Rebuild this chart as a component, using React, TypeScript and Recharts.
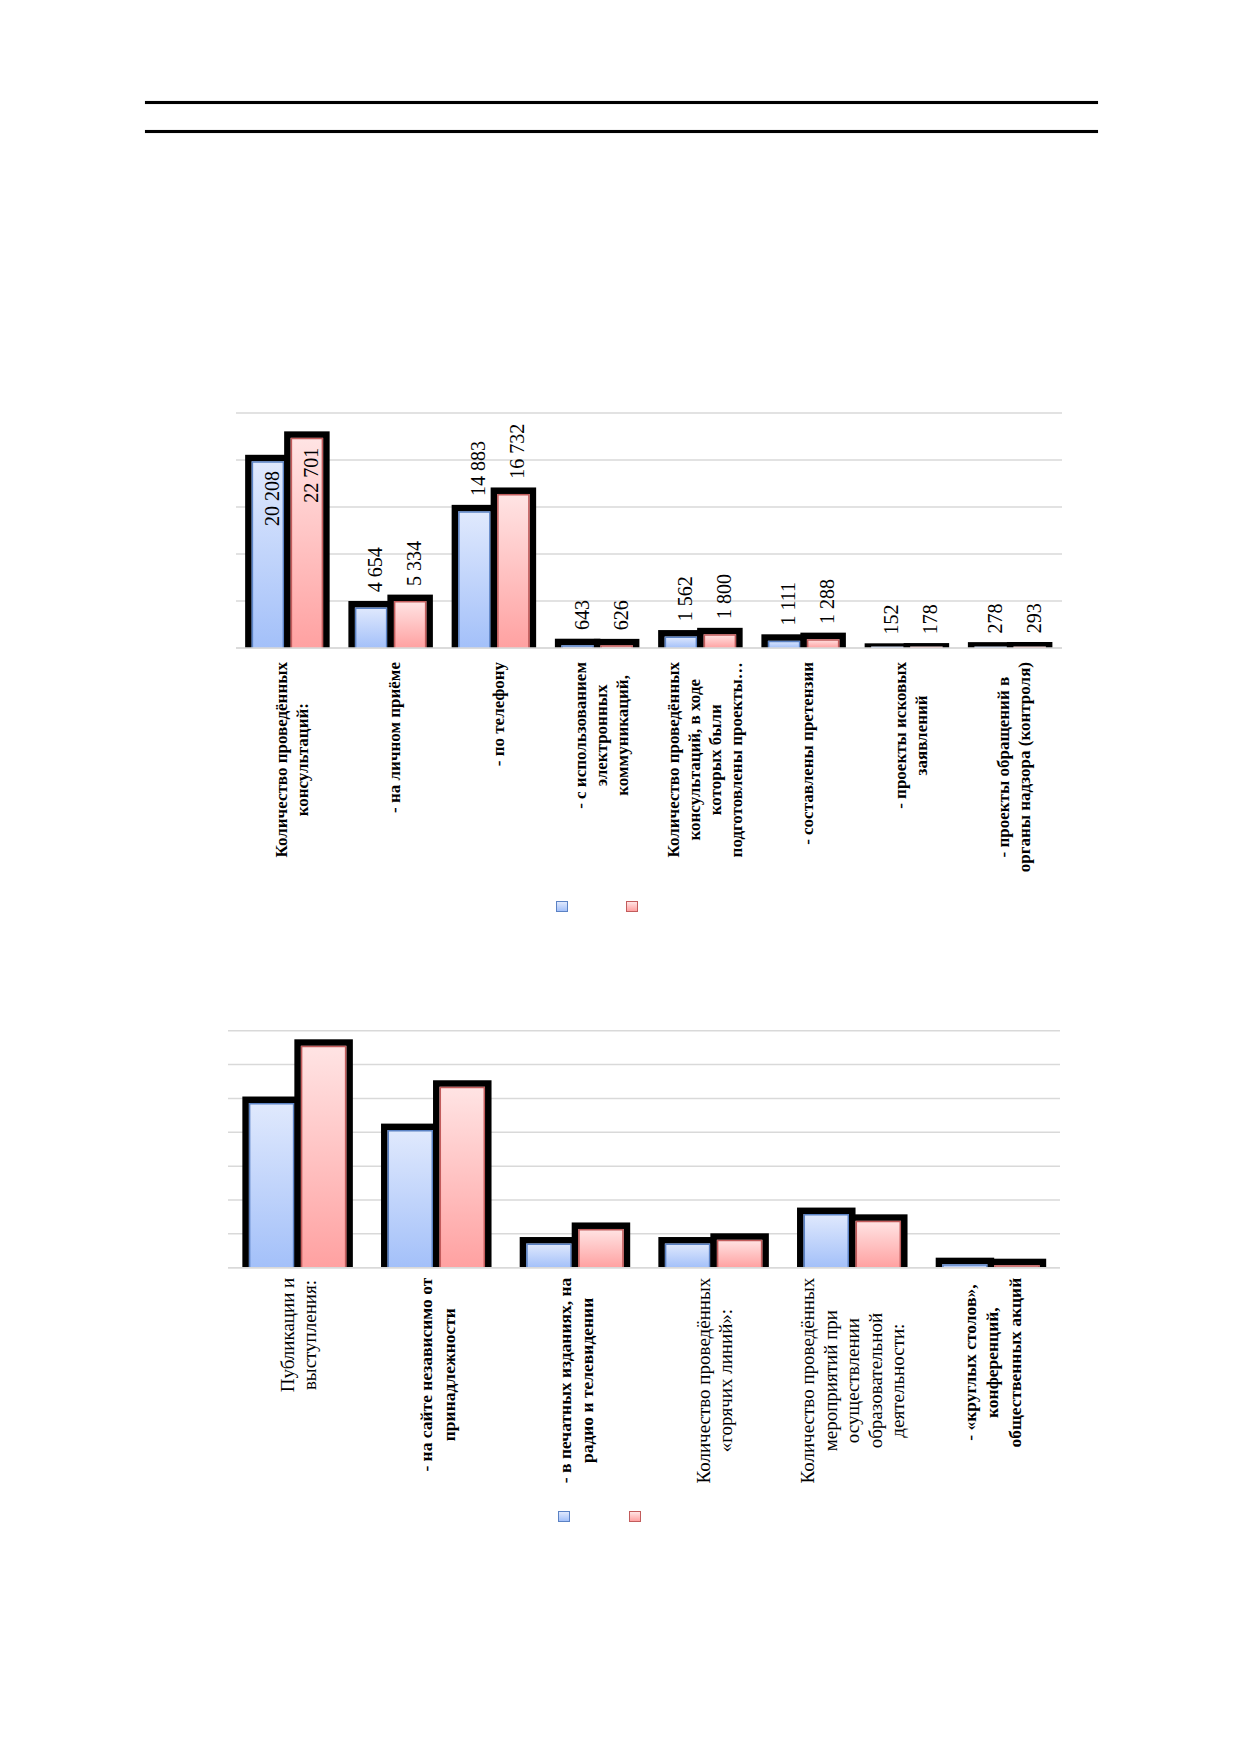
import { BarChart, Bar, XAxis, YAxis, CartesianGrid, LabelList, Legend } from 'recharts';

// ---- chart 1: консультации ----
const consultCategories = [
  'Количество проведённых\nконсультаций:',
  '- на личном приёме',
  '- по телефону',
  '- с использованием\nэлектронных\nкоммуникаций,',
  'Количество проведённых\nконсультаций, в ходе\nкоторых были\nподготовлены проекты…',
  '- составлены претензии',
  '- проекты исковых\nзаявлений',
  '- проекты обращений в\nорганы надзора (контроля)',
];
const consultPrev = [20208, 4654, 14883, 643, 1562, 1111, 152, 278];
const consultCurr = [22701, 5334, 16732, 626, 1800, 1288, 178, 293];
const consultTicks = [0, 5000, 10000, 15000, 20000, 25000];

// ---- chart 2: публикации и мероприятия (значения без подписей, оценены по сетке) ----
const outreachCategories = [
  'Публикации и\nвыступления:',
  '- на сайте независимо от\nпринадлежности',
  '- в печатных изданиях, на\nрадио и телевидении',
  'Количество проведённых\n«горячих линий»:',
  'Количество проведённых\nмероприятий при\nосуществлении\nобразовательной\nдеятельности:',
  '- «круглых столов»,\nконференций,\nобщественных акций',
];
const outreachPrev = [496, 416, 81, 81, 168, 20];
const outreachCurr = [665, 544, 124, 92, 148, 17];
const outreachTicks = [0, 100, 200, 300, 400, 500, 600, 700];
const outreachPlainLabels = [
  'Публикации и\nвыступления:',
  'Количество проведённых\n«горячих линий»:',
  'Количество проведённых\nмероприятий при\nосуществлении\nобразовательной\nдеятельности:',
];

const consultData = consultCategories.map((name, i) => ({ name, prev: consultPrev[i], curr: consultCurr[i] }));
const outreachData = outreachCategories.map((name, i) => ({ name, prev: outreachPrev[i], curr: outreachCurr[i] }));

const SERIF = "'Liberation Serif', 'Times New Roman', serif";
const GRID = '#d9d9d9';
const BLUE = { top: '#e0e9fd', bottom: '#a3c0f9', edge: '#5b82c4' };
const RED = { top: '#ffe4e4', bottom: '#ffa1a1', edge: '#c25c5c' };

const measureCtx = typeof document !== 'undefined' ? document.createElement('canvas').getContext('2d') : null;
function textWidth(s: string, font: string) {
  if (!measureCtx) return s.length * 9;
  measureCtx.font = font;
  return measureCtx.measureText(s).width;
}

const fmt = (v: number) => String(v).replace(/\B(?=(\d{3})+(?!\d))/g, ' ');

// thick black frame (no bottom edge, nothing below the baseline) + thin coloured inner edge
function FramedBar(props: any) {
  const { x, y, width, height, fill, edge } = props;
  if (!height || height <= 0) return null;
  const sw = 6.5;
  const h = sw / 2;
  const bottom = y + height;
  const innerTop = Math.min(y + h, bottom - 1.5);
  const ix = x + h + 0.75;
  const iw = width - sw - 1.5;
  const iy = innerTop + 0.75;
  return (
    <g>
      <rect x={x - h} y={y - h} width={width + sw} height={bottom - (y - h)} fill="#000" />
      <rect x={x + h} y={innerTop} width={width - sw} height={bottom - innerTop} fill={fill} />
      {iy < bottom - 1 && (
        <path d={`M${ix},${bottom} L${ix},${iy} L${ix + iw},${iy} L${ix + iw},${bottom}`} fill="none" stroke={edge} strokeWidth={1.5} />
      )}
    </g>
  );
}

function ValueLabel(props: any) {
  const x = Number(props.x);
  const y = Number(props.y);
  const width = Number(props.width);
  const value = Number(props.value);
  const cx = x + width / 2 + 11;
  const inside = value > 18000;
  const py = inside ? y + 13 : y - 12;
  return (
    <text
      x={cx}
      y={py}
      transform={`rotate(-90 ${cx} ${py})`}
      textAnchor={inside ? 'end' : 'start'}
      fontFamily={SERIF}
      fontSize={20}
      fill="#000"
    >
      {fmt(value)}
    </text>
  );
}

function CategoryTick(props: any) {
  const { x, y, payload, gap, lineGap, shift, size, plainSize, plain } = props;
  const label: string = payload.value;
  const lines = label.split('\n');
  const isPlain = plain && plain.includes(label);
  const fs = isPlain ? plainSize : size;
  const weight = isPlain ? 'normal' : 'bold';
  const font = `${weight} ${fs}px 'Liberation Serif'`;
  const maxW = Math.max(...lines.map((l) => textWidth(l, font)));
  const cy = y + gap + maxW / 2;
  const n = lines.length;
  return (
    <g>
      {lines.map((line, i) => {
        const bx = x + (i - (n - 1) / 2) * lineGap + shift;
        return (
          <text
            key={i}
            x={bx}
            y={cy}
            transform={`rotate(-90 ${bx} ${cy})`}
            textAnchor="middle"
            fontFamily={SERIF}
            fontWeight={weight}
            fontSize={fs}
            fill="#000"
          >
            {line}
          </text>
        );
      })}
    </g>
  );
}

function SwatchLegend() {
  return (
    <div style={{ position: 'relative', width: 90, height: 12 }}>
      {[BLUE, RED].map((s, i) => (
        <div
          key={i}
          style={{
            position: 'absolute',
            left: i * 70.5,
            top: 0,
            width: 12,
            height: 11.5,
            boxSizing: 'border-box',
            border: `1.5px solid ${s.edge}`,
            background: `linear-gradient(${s.top}, ${s.bottom})`,
          }}
        />
      ))}
    </div>
  );
}

function Gradients() {
  return (
    <defs>
      <linearGradient id="gBlue" x1="0" y1="0" x2="0" y2="1">
        <stop offset="0%" stopColor={BLUE.top} />
        <stop offset="100%" stopColor={BLUE.bottom} />
      </linearGradient>
      <linearGradient id="gRed" x1="0" y1="0" x2="0" y2="1">
        <stop offset="0%" stopColor={RED.top} />
        <stop offset="100%" stopColor={RED.bottom} />
      </linearGradient>
    </defs>
  );
}

const rule = (top: number) => (
  <div
    style={{
      position: 'absolute',
      left: 145,
      top,
      width: 953,
      height: 3,
      background: '#000',
      boxShadow: '0 0 1px #777',
    }}
  />
);

export default function App() {
  return (
    <div style={{ position: 'absolute', left: 0, top: 0, width: 1237, height: 1754, background: '#fff' }}>
      {rule(101)}
      {rule(130)}

      <div style={{ position: 'absolute', left: 0, top: 0 }}>
        <BarChart
          width={1237}
          height={960}
          data={consultData}
          margin={{ top: 413, right: 175, bottom: 0, left: 236 }}
          barCategoryGap="12%"
          barGap={0}
        >
          <Gradients />
          <CartesianGrid vertical={false} stroke={GRID} strokeWidth={1.5} />
          <YAxis hide domain={[0, 25000]} ticks={consultTicks} />
          <XAxis
            dataKey="name"
            height={312}
            interval={0}
            tickLine={false}
            tickSize={0}
            tickMargin={0}
            axisLine={{ stroke: GRID, strokeWidth: 1.5 }}
            tick={(p: any) => <CategoryTick {...p} gap={14} lineGap={21} shift={9.5} size={17} />}
          />
          <Legend
            layout="horizontal"
            verticalAlign="middle"
            align="center"
            content={() => <SwatchLegend />}
            wrapperStyle={{ left: 555.7, top: 900.7, width: 90, height: 12 }}
          />
          <Bar dataKey="prev" fill="url(#gBlue)" isAnimationActive={false} shape={(p: any) => <FramedBar {...p} edge={BLUE.edge} />}>
            <LabelList dataKey="prev" content={ValueLabel} />
          </Bar>
          <Bar dataKey="curr" fill="url(#gRed)" isAnimationActive={false} shape={(p: any) => <FramedBar {...p} edge={RED.edge} />}>
            <LabelList dataKey="curr" content={ValueLabel} />
          </Bar>
        </BarChart>
      </div>

      <div style={{ position: 'absolute', left: 0, top: 960 }}>
        <BarChart
          width={1237}
          height={794}
          data={outreachData}
          margin={{ top: 70.7, right: 177, bottom: 0, left: 228 }}
          barCategoryGap="12.7%"
          barGap={0}
        >
          <Gradients />
          <CartesianGrid vertical={false} stroke={GRID} strokeWidth={1.5} />
          <YAxis hide domain={[0, 700]} ticks={outreachTicks} />
          <XAxis
            dataKey="name"
            height={486.3}
            interval={0}
            tickLine={false}
            tickSize={0}
            tickMargin={0}
            axisLine={{ stroke: GRID, strokeWidth: 1.5 }}
            tick={(p: any) => (
              <CategoryTick {...p} gap={10} lineGap={22.5} shift={7.5} size={17.5} plainSize={19} plain={outreachPlainLabels} />
            )}
          />
          <Legend
            layout="horizontal"
            verticalAlign="middle"
            align="center"
            content={() => <SwatchLegend />}
            wrapperStyle={{ left: 558.3, top: 550.7, width: 90, height: 12 }}
          />
          <Bar dataKey="prev" fill="url(#gBlue)" isAnimationActive={false} shape={(p: any) => <FramedBar {...p} edge={BLUE.edge} />} />
          <Bar dataKey="curr" fill="url(#gRed)" isAnimationActive={false} shape={(p: any) => <FramedBar {...p} edge={RED.edge} />} />
        </BarChart>
      </div>
    </div>
  );
}
